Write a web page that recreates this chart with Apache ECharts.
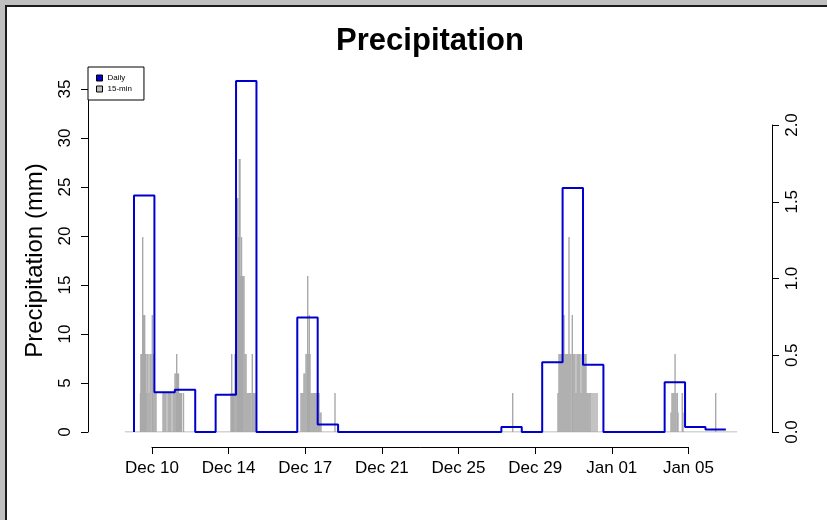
<!DOCTYPE html>
<html>
<head>
<meta charset="utf-8">
<script src="https://cdn.jsdelivr.net/npm/echarts@6/dist/echarts.min.js"></script>
<style>
  html, body { margin: 0; padding: 0; background: #fff; }
  #chart { position: absolute; left: 0; top: 0; width: 827px; height: 520px; }
  .edge { position: absolute; }
</style>
</head>
<body>
<div id="chart"></div>
<!-- window frame -->
<div class="edge" style="left:0;top:0;width:827px;height:5px;background:#c0c0c0"></div>
<div class="edge" style="left:0;top:0;width:5px;height:520px;background:#c0c0c0"></div>
<div class="edge" style="left:5px;top:5px;width:822px;height:2px;background:#1c1c1c"></div>
<div class="edge" style="left:5px;top:5px;width:2px;height:515px;background:#1c1c1c"></div>
<script>
// x values are days since Dec 9 00:00
const dailyStart = [0, 1, 2, 3, 4, 5, 6, 7, 8, 9, 10, 11, 12, 13, 14, 15, 16, 17, 18, 19, 20, 21, 22, 23, 24, 25, 26, 27, 28];
const dailyMm = [24.13, 4.06, 4.32, 0, 3.81, 35.81, 0, 0, 11.68, 0.76, 0, 0, 0, 0, 0, 0, 0, 0, 0.51, 0, 7.11, 24.89, 6.86, 0, 0, 0, 5.08, 0.51, 0.25];

// 15-minute totals (mm), timestamp in days since Dec 9 00:00
const quarterDay = [
  0.318, 0.343, 0.367, 0.392, 0.426, 0.456, 0.490, 0.524, 0.563, 0.598, 0.637, 0.686, 0.735, 0.784, 0.833, 0.897, 0.931, 0.980, 1.029, 1.078,
  1.421, 1.470, 1.519, 1.568, 1.666, 1.715, 1.764, 1.813, 1.911, 1.960, 2.009, 2.058, 2.092, 2.131, 2.180, 2.229, 2.278, 2.327, 2.425,
  4.753, 4.787, 4.826, 4.865, 4.900, 4.949, 4.998, 5.047, 5.081, 5.120, 5.159, 5.194, 5.228, 5.267, 5.306, 5.341, 5.390, 5.439, 5.488, 5.537, 5.586, 5.635, 5.684, 5.733, 5.796, 5.830, 5.879, 5.928,
  8.182, 8.231, 8.280, 8.329, 8.378, 8.427, 8.476, 8.511, 8.550, 8.589, 8.623, 8.672, 8.721, 8.770, 8.819, 8.868, 8.917, 8.966, 9.015, 9.064, 9.113, 9.162, 9.848,
  18.555,
  20.774, 20.823, 20.872, 20.921, 20.970, 21.019, 21.068, 21.117, 21.166, 21.215, 21.264, 21.313, 21.362, 21.411, 21.475, 21.509, 21.558, 21.607, 21.656, 21.705, 21.754, 21.803, 21.852, 21.901, 21.950, 21.999, 22.048, 22.097, 22.146, 22.195, 22.244, 22.293, 22.342, 22.391, 22.489, 22.587, 22.685,
  26.311, 26.360, 26.409, 26.458, 26.511, 26.556, 26.619, 26.653, 26.864, 26.899, 28.501
];
const quarterMm = [
  0.254, 0.508, 0.508, 0.508, 1.270, 0.762, 0.508, 0.762, 0.508, 0.254, 0.508, 0.508, 0.254, 0.508, 0.508, 0.762, 0.508, 0.508, 0.254, 0.254,
  0.254, 0.254, 0.254, 0.254, 0.254, 0.254, 0.254, 0.254, 0.254, 0.254, 0.381, 0.381, 0.508, 0.381, 0.381, 0.254, 0.254, 0.254, 0.254,
  0.254, 0.508, 0.254, 0.254, 0.254, 0.508, 0.508, 0.762, 1.524, 1.270, 1.778, 1.778, 1.016, 1.270, 1.016, 1.016, 1.016, 0.508, 0.508, 0.254, 0.254, 0.254, 0.254, 0.254, 0.508, 0.254, 0.254, 0.254,
  0.254, 0.254, 0.254, 0.381, 0.381, 0.508, 0.508, 1.016, 0.508, 0.762, 0.508, 0.254, 0.254, 0.254, 0.254, 0.254, 0.254, 0.254, 0.254, 0.254, 0.127, 0.127, 0.254,
  0.254,
  0.254, 0.508, 0.508, 0.508, 0.508, 0.508, 0.762, 0.508, 0.508, 0.508, 0.508, 1.270, 0.508, 0.508, 0.762, 0.508, 0.508, 0.508, 0.254, 0.508, 0.508, 0.508, 0.508, 0.254, 0.508, 0.508, 0.508, 0.508, 0.508, 0.254, 0.254, 0.254, 0.254, 0.254, 0.254, 0.254, 0.254,
  0.127, 0.254, 0.254, 0.254, 0.508, 0.254, 0.254, 0.127, 0.254, 0.127, 0.254
];
// first and last 15-minute record
const quarterSpan = [-0.45, 29.55];

// date axis
const tickDay = [0.88, 4.635, 8.39, 12.145, 15.9, 19.655, 23.41, 27.165];
const tickLabel = ['Dec 10', 'Dec 14', 'Dec 17', 'Dec 21', 'Dec 25', 'Dec 29', 'Jan 01', 'Jan 05'];

// left / right axis ticks
const leftTicks = [0, 5, 10, 15, 20, 25, 30, 35];
const rightTicks = [0, 0.5, 1.0, 1.5, 2.0];

const W = 827;
const plotX0 = 88, plotX1 = 772;          // plot region in px
const dayMin = -2.254, dayMax = 31.26;    // plot region in days
const pxPerDay = (plotX1 - plotX0) / (dayMax - dayMin);
const dayToPx = d => plotX0 + (d - dayMin) * pxPerDay;

const FONT = '"Liberation Sans", Arial, sans-serif';
const BLUE = '#0000cd';
const GRAY = '#a9a9a9';

const dailyLine = [[dailyStart[0], 0]]
  .concat(dailyStart.map((d, i) => [d, dailyMm[i]]))
  .concat([[dailyStart[dailyStart.length - 1] + 1, dailyMm[dailyMm.length - 1]]]);

const chart = echarts.init(document.getElementById('chart'), null, { renderer: 'canvas' });

chart.setOption({
  animation: false,
  backgroundColor: '#fff',
  textStyle: { fontFamily: FONT },
  title: {
    text: 'Precipitation',
    left: 425,
    textAlign: 'center',
    top: 21,
    textStyle: { fontFamily: FONT, fontSize: 31, fontWeight: 'bold', color: '#000' }
  },
  legend: {
    orient: 'vertical',
    left: 88, top: 67,
    padding: [7, 12, 7, 8],
    itemGap: 3,
    itemWidth: 6, itemHeight: 6,
    icon: 'rect',
    borderColor: '#000', borderWidth: 1,
    backgroundColor: '#fff',
    textStyle: { fontFamily: FONT, fontSize: 8, color: '#000' },
    data: [
      { name: 'Daily', itemStyle: { color: BLUE, borderColor: '#000', borderWidth: 1 } },
      { name: '15-min', itemStyle: { color: '#bebebe', borderColor: '#000', borderWidth: 1 } }
    ]
  },
  grid: [
    { left: plotX0, right: W - plotX1, top: 89, bottom: 520 - 432 },
    { left: plotX0, right: W - plotX1, top: 125, bottom: 520 - 432 },
    { left: dayToPx(tickDay[0]), right: W - dayToPx(tickDay[tickDay.length - 1]), top: 437, bottom: 520 - 447 }
  ],
  xAxis: [
    { gridIndex: 0, type: 'value', min: dayMin, max: dayMax, show: false },
    { gridIndex: 1, type: 'value', min: dayMin, max: dayMax, show: false },
    {
      gridIndex: 2, type: 'value', min: 0, max: tickLabel.length - 1, interval: 1,
      position: 'bottom',
      axisLine: { show: true, onZero: false, lineStyle: { color: '#000', width: 1 } },
      axisTick: { show: true, length: 7, lineStyle: { color: '#000' } },
      axisLabel: { fontSize: 17, color: '#000', fontFamily: FONT, margin: 13,
        formatter: v => tickLabel[Math.round(v)] || '' },
      splitLine: { show: false }
    }
  ],
  yAxis: [
    {
      gridIndex: 0, type: 'value', min: leftTicks[0], max: leftTicks[leftTicks.length - 1], interval: 5,
      position: 'left',
      name: 'Precipitation (mm)', nameLocation: 'middle', nameGap: 41, nameRotate: 90,
      nameTextStyle: { fontSize: 24, color: '#000', fontFamily: FONT },
      axisLine: { show: true, onZero: false, lineStyle: { color: '#000', width: 1 } },
      axisTick: { show: true, length: 7, lineStyle: { color: '#000' } },
      axisLabel: { rotate: 90, fontSize: 17, color: '#000', fontFamily: FONT, margin: 14 },
      splitLine: { show: false }
    },
    {
      gridIndex: 1, type: 'value', min: rightTicks[0], max: rightTicks[rightTicks.length - 1], interval: 0.5,
      position: 'right',
      axisLine: { show: true, onZero: false, lineStyle: { color: '#000', width: 1 } },
      axisTick: { show: true, length: 7, lineStyle: { color: '#000' } },
      axisLabel: { rotate: 90, fontSize: 17, color: '#000', fontFamily: FONT, margin: 12,
        formatter: v => v.toFixed(1) },
      splitLine: { show: false }
    },
    { gridIndex: 2, type: 'value', show: false }
  ],
  series: [
    {
      name: 'baseline', type: 'line', xAxisIndex: 1, yAxisIndex: 1,
      data: quarterSpan.map(d => [d, 0]),
      symbol: 'none', lineStyle: { color: GRAY, width: 1 }, z: 1, silent: true
    },
    {
      name: '15-min', type: 'bar', xAxisIndex: 1, yAxisIndex: 1,
      data: quarterDay.map((d, i) => [d, quarterMm[i]]),
      barWidth: 1.4, itemStyle: { color: GRAY }, z: 2, silent: true
    },
    {
      name: 'Daily', type: 'line', xAxisIndex: 0, yAxisIndex: 0,
      data: dailyLine, step: 'end', symbol: 'none', clip: false,
      lineStyle: { color: BLUE, width: 2 }, itemStyle: { color: BLUE }, z: 3, silent: true
    }
  ]
});
</script>
</body>
</html>
